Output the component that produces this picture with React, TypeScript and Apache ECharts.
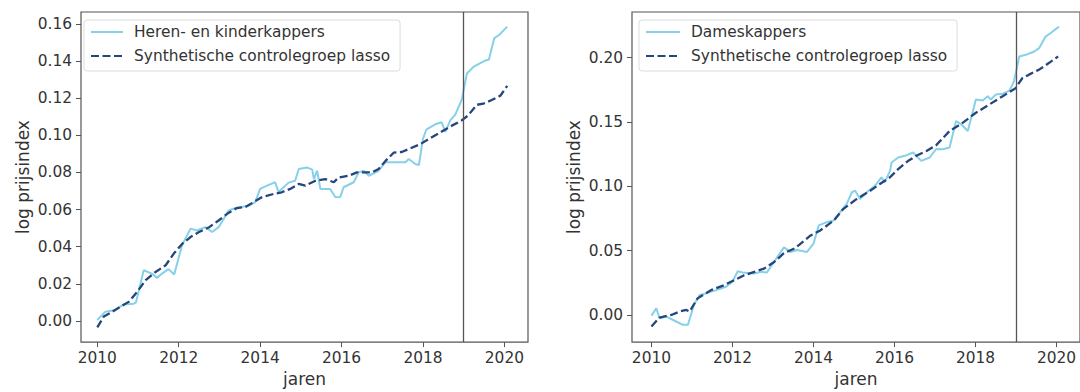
import React, { useEffect, useRef } from "react";
import * as echarts from "echarts";

// ---- data ----
const leftLightX = [2010.0, 2010.2, 2010.44, 2010.65, 2010.89, 2010.95, 2011.14, 2011.34, 2011.47, 2011.59, 2011.75, 2011.89, 2012.08, 2012.29, 2012.45, 2012.65, 2012.82, 2012.98, 2013.23, 2013.39, 2013.72, 2013.88, 2014.0, 2014.17, 2014.37, 2014.45, 2014.7, 2014.86, 2014.95, 2015.15, 2015.28, 2015.32, 2015.4, 2015.48, 2015.72, 2015.85, 2015.97, 2016.05, 2016.3, 2016.42, 2016.54, 2016.67, 2016.91, 2017.08, 2017.57, 2017.65, 2017.81, 2017.9, 2018.0, 2018.08, 2018.3, 2018.46, 2018.55, 2018.67, 2018.79, 2018.95, 2019.08, 2019.25, 2019.5, 2019.62, 2019.75, 2019.87, 2020.07];
const leftLightY = [0.0005, 0.005, 0.0059, 0.0089, 0.0092, 0.01, 0.0273, 0.0255, 0.0232, 0.0255, 0.0279, 0.025, 0.0407, 0.0497, 0.0487, 0.0505, 0.0479, 0.0505, 0.0595, 0.0608, 0.0621, 0.064, 0.0711, 0.0729, 0.0747, 0.0695, 0.0745, 0.0755, 0.0818, 0.0827, 0.0815, 0.0764, 0.0809, 0.0711, 0.0711, 0.0666, 0.0668, 0.072, 0.0747, 0.08, 0.0809, 0.0782, 0.0809, 0.0855, 0.0855, 0.0872, 0.0845, 0.084, 0.098, 0.103, 0.1059, 0.107, 0.1018, 0.108, 0.111, 0.119, 0.1333, 0.137, 0.14, 0.1408, 0.1523, 0.154, 0.1585];

const leftSynthX = [2010.0, 2010.16, 2010.37, 2010.57, 2010.78, 2010.98, 2011.19, 2011.44, 2011.68, 2011.88, 2012.09, 2012.29, 2012.5, 2012.75, 2012.98, 2013.19, 2013.43, 2013.63, 2013.84, 2014.04, 2014.33, 2014.53, 2014.74, 2014.95, 2015.11, 2015.36, 2015.6, 2015.81, 2015.93, 2016.18, 2016.38, 2016.59, 2016.75, 2016.91, 2017.08, 2017.28, 2017.48, 2017.65, 2017.94, 2018.14, 2018.43, 2018.71, 2018.95, 2019.11, 2019.32, 2019.48, 2019.69, 2019.9, 2020.07];
const leftSynthY = [-0.0035, 0.0024, 0.005, 0.0077, 0.0104, 0.0157, 0.022, 0.0265, 0.03, 0.0363, 0.0416, 0.0452, 0.0479, 0.0505, 0.0541, 0.0577, 0.0608, 0.0613, 0.064, 0.0666, 0.0684, 0.0693, 0.0711, 0.0738, 0.0729, 0.0755, 0.0764, 0.0747, 0.0773, 0.0782, 0.08, 0.08, 0.08, 0.0818, 0.0862, 0.0906, 0.091, 0.0926, 0.0953, 0.098, 0.1016, 0.1052, 0.108, 0.1107, 0.1164, 0.117, 0.119, 0.1213, 0.1266];

const rightLightX = [2010.0, 2010.12, 2010.2, 2010.37, 2010.61, 2010.78, 2010.9, 2011.05, 2011.19, 2011.35, 2011.6, 2011.84, 2012.0, 2012.13, 2012.25, 2012.54, 2012.7, 2012.85, 2013.0, 2013.27, 2013.43, 2013.6, 2013.84, 2014.0, 2014.13, 2014.33, 2014.5, 2014.66, 2014.82, 2014.95, 2015.03, 2015.15, 2015.36, 2015.52, 2015.68, 2015.76, 2015.89, 2015.93, 2016.09, 2016.26, 2016.46, 2016.66, 2016.87, 2017.03, 2017.2, 2017.36, 2017.52, 2017.65, 2017.81, 2018.01, 2018.18, 2018.3, 2018.38, 2018.5, 2018.67, 2018.84, 2018.95, 2019.08, 2019.24, 2019.45, 2019.57, 2019.73, 2019.85, 2020.06];
const rightLightY = [-0.0005, 0.0052, -0.0026, -0.0013, -0.0051, -0.0077, -0.0077, 0.008, 0.0155, 0.0168, 0.0193, 0.0219, 0.0258, 0.034, 0.033, 0.0322, 0.0335, 0.033, 0.04, 0.0525, 0.049, 0.0505, 0.049, 0.0554, 0.0696, 0.0722, 0.0734, 0.0799, 0.0863, 0.0954, 0.0966, 0.0902, 0.0966, 0.1005, 0.107, 0.1031, 0.112, 0.1185, 0.1224, 0.1237, 0.1263, 0.1198, 0.1224, 0.129, 0.1288, 0.1301, 0.1507, 0.1481, 0.143, 0.1675, 0.1667, 0.17, 0.1675, 0.1713, 0.1719, 0.1744, 0.1816, 0.2009, 0.2022, 0.2048, 0.2074, 0.2164, 0.219, 0.2241];

const rightSynthX = [2010.0, 2010.2, 2010.49, 2010.69, 2010.86, 2010.94, 2011.14, 2011.47, 2011.8, 2012.04, 2012.29, 2012.54, 2012.78, 2013.03, 2013.27, 2013.55, 2013.93, 2014.17, 2014.5, 2014.74, 2015.07, 2015.4, 2015.64, 2015.89, 2016.09, 2016.34, 2016.54, 2016.79, 2017.03, 2017.36, 2017.69, 2018.01, 2018.34, 2018.67, 2018.98, 2019.16, 2019.32, 2019.57, 2019.81, 2020.04];
const rightSynthY = [-0.009, -0.002, 0.0, 0.0026, 0.0039, 0.0026, 0.0129, 0.0193, 0.0232, 0.027, 0.0309, 0.0335, 0.036, 0.0412, 0.048, 0.052, 0.0618, 0.0657, 0.0734, 0.0825, 0.0902, 0.0966, 0.1018, 0.107, 0.1134, 0.1198, 0.1237, 0.1275, 0.132, 0.143, 0.1495, 0.1572, 0.1636, 0.17, 0.176, 0.1842, 0.1868, 0.1907, 0.1958, 0.2009];

const xTicks = [2010, 2012, 2014, 2016, 2018, 2020];
const leftYTicks = [0, 0.02, 0.04, 0.06, 0.08, 0.1, 0.12, 0.14, 0.16];
const rightYTicks = [0, 0.05, 0.1, 0.15, 0.2];
const interventionYear = 2019;

const leftName = "Heren- en kinderkappers";
const rightName = "Dameskappers";
const synthName = "Synthetische controlegroep lasso";
const xLabel = "jaren";
const yLabel = "log prijsindex";

const zip = (xs: number[], ys: number[]) => xs.map((x, i) => [x, ys[i]]);

const FONT = "DejaVu Sans";
const TEXT = "#333";
const FRAME = "#555";
const LIGHT = "#86d0ea";
const DARK = "#24467a";

export default function App() {
  const ref = useRef<HTMLDivElement>(null);
  useEffect(() => {
    document.body.style.margin = "0";
    if (!ref.current) return;
    const chart = echarts.init(ref.current, undefined, { renderer: "svg" });

    const xAxisBase = (gridIndex: number, min: number, max: number) => ({
      type: "value",
      gridIndex,
      min,
      max,
      name: xLabel,
      nameLocation: "middle",
      nameGap: 25,
      nameTextStyle: { fontFamily: FONT, fontSize: 17, color: TEXT },
      axisLine: { show: false, onZero: false },
      axisTick: { show: true, length: 5, lineStyle: { color: FRAME, width: 1 }, customValues: xTicks },
      axisLabel: { fontFamily: FONT, fontSize: 15.4, color: TEXT, margin: 8, customValues: xTicks, formatter: (v: number) => String(v) },
      splitLine: { show: false },
    });
    const yAxisBase = (gridIndex: number, min: number, max: number, ticks: number[], gap: number) => ({
      type: "value",
      gridIndex,
      min,
      max,
      name: yLabel,
      nameLocation: "middle",
      nameGap: gap,
      nameTextStyle: { fontFamily: FONT, fontSize: 17, color: TEXT },
      axisLine: { show: false, onZero: false },
      axisTick: { show: true, length: 5, lineStyle: { color: FRAME, width: 1 }, customValues: ticks },
      axisLabel: { fontFamily: FONT, fontSize: 15.4, color: TEXT, margin: 9, customValues: ticks, formatter: (v: number) => v.toFixed(2) },
      splitLine: { show: false },
    });
    const legendBase = (left: number, names: string[], itemWidth: number) => ({
      data: names,
      orient: "vertical",
      left,
      top: 20,
      itemWidth,
      itemHeight: 14,
      itemGap: 6,
      padding: [3, 10, 6, 6],
      borderColor: "#dcdcdc",
      borderWidth: 1,
      borderRadius: 3,
      backgroundColor: "rgba(255,255,255,0.8)",
      selectedMode: false,
      itemStyle: { opacity: 0 },
      textStyle: { fontFamily: FONT, fontSize: 15.4, color: TEXT, lineHeight: 18, padding: [0, 0, 0, 6] },
    });
    const markLine = {
      silent: true,
      symbol: "none",
      label: { show: false },
      lineStyle: { color: FRAME, width: 1.3, type: "solid" },
      data: [{ xAxis: interventionYear }],
    };
    const lightSeries = (name: string, idx: number, data: number[][]) => ({
      type: "line",
      name,
      xAxisIndex: idx,
      yAxisIndex: idx,
      data,
      symbol: "none",
      lineStyle: { color: LIGHT, width: 2 },
      itemStyle: { color: LIGHT },
      markLine,
      z: 2,
    });
    const synthSeries = (idx: number, data: number[][]) => ({
      type: "line",
      name: synthName,
      xAxisIndex: idx,
      yAxisIndex: idx,
      data,
      symbol: "none",
      lineStyle: { color: DARK, width: 2.3, type: [8, 3.5] },
      itemStyle: { color: DARK },
      z: 3,
    });

    chart.setOption({
      animation: false,
      backgroundColor: "#fff",
      textStyle: { fontFamily: FONT },
      grid: [
        { left: 81, top: 12, width: 447, height: 332, show: true, borderColor: FRAME, borderWidth: 1.2, backgroundColor: "transparent" },
        { left: 632, top: 12, width: 451, height: 332, show: true, borderColor: FRAME, borderWidth: 1.2, backgroundColor: "transparent" },
      ],
      xAxis: [xAxisBase(0, 2009.6, 2020.58), xAxisBase(1, 2009.52, 2020.58)],
      yAxis: [
        yAxisBase(0, -0.0114, 0.1664, leftYTicks, 50),
        yAxisBase(1, -0.0211, 0.2355, rightYTicks, 50),
      ],
      legend: [
        legendBase(84, [leftName, synthName], 32),
        legendBase(639, [rightName, synthName], 34),
      ],
      series: [
        lightSeries(leftName, 0, zip(leftLightX, leftLightY)),
        synthSeries(0, zip(leftSynthX, leftSynthY)),
        lightSeries(rightName, 1, zip(rightLightX, rightLightY)),
        synthSeries(1, zip(rightSynthX, rightSynthY)),
      ],
    });
    return () => chart.dispose();
  }, []);
  return <div ref={ref} style={{ width: 1080, height: 392 }} />;
}
